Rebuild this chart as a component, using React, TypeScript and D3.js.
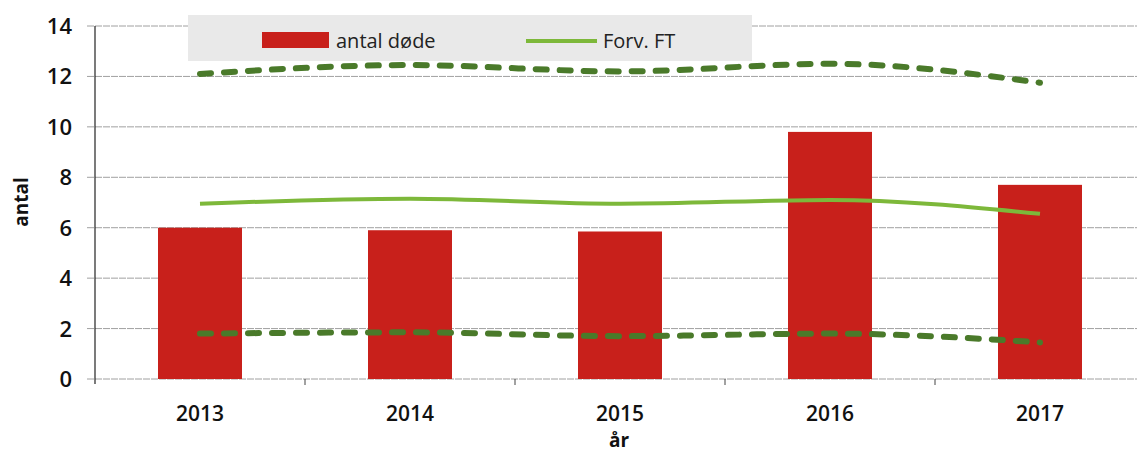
import React from 'react';
import { scaleBand, scaleLinear, line, curveMonotoneX } from 'd3';

const years = ['2013', '2014', '2015', '2016', '2017'];
const deaths = [6, 5.9, 5.85, 9.8, 7.7];
const expected = [6.95, 7.15, 6.95, 7.1, 6.55];
const upperLimit = [12.1, 12.45, 12.2, 12.5, 11.75];
const lowerLimit = [1.8, 1.85, 1.7, 1.8, 1.45];
const yTicks = [0, 2, 4, 6, 8, 10, 12, 14];

const W = 1137;
const H = 452;
const left = 95;
const right = 1145;
const top = 26;
const bottom = 379;

const font = "'Open Sans', 'Liberation Sans', sans-serif";
const dashColor = '#4a7a2a';
const lineColor = '#7db83a';

const App = () => {
  const x = scaleBand<string>().domain(years).range([left, right]).paddingInner(0.6).paddingOuter(0.3);
  const xStep = scaleBand<string>().domain(years).range([left, right]);
  const y = scaleLinear().domain([0, 14]).range([bottom, top]);
  const cx = (yr: string) => (x(yr) as number) + x.bandwidth() / 2;

  const mkLine = (vals: number[]) =>
    line<number>()
      .x((_, i) => cx(years[i]))
      .y((d) => y(d))
      .curve(curveMonotoneX)(vals) as string;

  return (
    <svg width={W} height={H} style={{ position: 'absolute', left: 0, top: 0, background: '#fff' }}>
      {/* gridlines */}
      {yTicks.map((t) => (
        <line key={t} x1={left - 8} x2={W} y1={y(t)} y2={y(t)} stroke="#a0a0a0" strokeWidth={1} strokeDasharray="7,1" />
      ))}
      {/* y axis */}
      <line x1={left} x2={left} y1={top} y2={bottom + 5} stroke="#222" strokeWidth={1.2} />
      {yTicks.map((t) => (
        <text key={t} x={72} y={y(t) + 8} textAnchor="end" fontFamily={font} fontSize={22} fontWeight={600} fill="#111">
          {t}
        </text>
      ))}
      {/* category ticks */}
      {years.slice(1).map((yr) => (
        <line key={yr} x1={xStep(yr)} x2={xStep(yr)} y1={bottom} y2={bottom + 6} stroke="#444" />
      ))}
      {/* bars */}
      {deaths.map((d, i) => (
        <rect key={years[i]} x={x(years[i])} y={y(d)} width={x.bandwidth()} height={y(0) - y(d)} fill="#c8201b" />
      ))}
      {/* lines */}
      <path d={mkLine(upperLimit)} fill="none" stroke={dashColor} strokeWidth={6} strokeLinecap="round" strokeDasharray="11,13" />
      <path d={mkLine(lowerLimit)} fill="none" stroke={dashColor} strokeWidth={6} strokeLinecap="round" strokeDasharray="11,13" />
      <path d={mkLine(expected)} fill="none" stroke={lineColor} strokeWidth={4} />
      {/* x labels */}
      {years.map((yr) => (
        <text key={yr} x={cx(yr)} y={421} textAnchor="middle" fontFamily={font} fontSize={21} fontWeight={600} fill="#111">
          {yr}
        </text>
      ))}
      <text x={619} y={447} textAnchor="middle" fontFamily={font} fontSize={19} fontWeight={700} fill="#111">
        år
      </text>
      <text transform="translate(28,202) rotate(-90)" textAnchor="middle" fontFamily={font} fontSize={19} fontWeight={700} fill="#111">
        antal
      </text>
      {/* legend */}
      <rect x={188} y={15} width={564} height={46} fill="#e9e9e9" />
      <rect x={262} y={32} width={67} height={16} fill="#c8201b" />
      <text x={336} y={48} fontFamily={font} fontSize={20} fill="#222">antal døde</text>
      <line x1={526} x2={597} y1={41} y2={41} stroke={lineColor} strokeWidth={4} />
      <text x={603} y={48} fontFamily={font} fontSize={20} fill="#222">Forv. FT</text>
    </svg>
  );
};

export default App;
